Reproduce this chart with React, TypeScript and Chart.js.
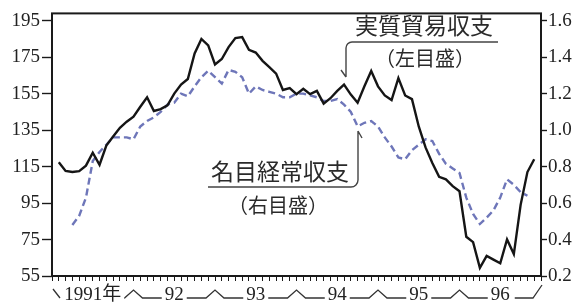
import React, { useEffect, useRef } from "react";
import { Chart, registerables } from "chart.js";

Chart.register(...registerables);

// ---- text ----
const yearLabels = ["1991年", "92", "93", "94", "95", "96"];
const leftTicks = [55, 75, 95, 115, 135, 155, 175, 195];
const rightTicks = [0.2, 0.4, 0.6, 0.8, 1.0, 1.2, 1.4, 1.6];
const realName = "実質貿易収支";
const realAxisNote = "（左目盛）";
const nominalName = "名目経常収支";
const nominalAxisNote = "（右目盛）";

// ---- data (monthly; position = months after Jan 1991) ----
const realTradeStart = 1;
const realTrade = [
  117.4, 112.6, 112, 112.5, 115.5, 122.6, 116, 126.5, 131.5, 136.3, 139.6, 142.4,
  147.8, 153, 145.5, 146.5, 148.6, 155, 160, 163, 177, 185, 181.5, 171,
  174, 180.5, 185.5, 186, 179, 177.5, 173, 169.5, 166, 157, 158, 154.7,
  157.7, 154.7, 156.5, 149.5, 152.5, 156.5, 160, 154.5, 150, 159, 167.4, 159,
  154, 151.5, 163.5, 154, 152, 137, 125.5, 117, 109.4, 108, 104.3, 101.5,
  76.5, 73.6, 59.5, 66, 64, 62, 75, 67, 94, 112, 119,
];
const nominalCAStart = 3;
const nominalCA = [
  0.48, 0.53, 0.63, 0.83, 0.88, 0.92, 0.96, 0.96, 0.96, 0.95,
  1.02, 1.05, 1.07, 1.1, 1.14, 1.15, 1.2, 1.185, 1.24, 1.29,
  1.325, 1.29, 1.255, 1.33, 1.32, 1.29, 1.2, 1.24, 1.22, 1.21,
  1.2, 1.18, 1.18, 1.2, 1.2, 1.19, 1.18, 1.16, 1.16, 1.17,
  1.14, 1.1, 1.02, 1.04, 1.05, 1.02, 0.96, 0.91, 0.85, 0.84,
  0.89, 0.92, 0.95, 0.94, 0.87, 0.815, 0.79, 0.765, 0.63, 0.54,
  0.485, 0.52, 0.56, 0.63, 0.73, 0.7, 0.66, 0.64,
];

const SERIF = '"Liberation Serif", "Noto Sans CJK JP", serif';
const CJK = '"Noto Sans CJK JP", sans-serif';
const INK = "#222222";

const decor = {
  id: "decor",
  afterDraw(chart: any) {
    const { ctx, chartArea: a, scales } = chart;
    const sx = scales.x;
    ctx.save();
    // frame
    ctx.strokeStyle = "#1a1a1a";
    ctx.lineWidth = 2;
    ctx.strokeRect(a.left, a.top, a.right - a.left, a.bottom - a.top);

    // year bracket marks on the x axis
    ctx.font = `19px ${SERIF}`;
    const y0 = a.bottom + 22;
    const h = 8;
    ctx.lineWidth = 1.3;
    ctx.strokeStyle = "#333";
    const centers = yearLabels.map((_, k) => sx.getPixelForValue(6 + 12 * k));
    const halfW = yearLabels.map((l) => ctx.measureText(l).width / 2);
    ctx.beginPath();
    const x0 = sx.getPixelForValue(0);
    ctx.moveTo(x0 + 1, y0 - h - 1);
    ctx.lineTo(x0 + 8, y0);
    for (let k = 0; k < yearLabels.length - 1; k++) {
      const bx = sx.getPixelForValue(12 * (k + 1));
      const l = centers[k] + halfW[k] + 3;
      const r = centers[k + 1] - halfW[k + 1] - 3;
      ctx.moveTo(Math.min(l, bx - 9), y0);
      ctx.lineTo(bx - 9, y0);
      ctx.lineTo(bx, y0 - h);
      ctx.lineTo(bx + 9, y0);
      ctx.lineTo(Math.max(r, bx + 9), y0);
    }
    const last = yearLabels.length - 1;
    const xe = sx.getPixelForValue(72);
    ctx.moveTo(centers[last] + halfW[last] + 5, y0);
    ctx.lineTo(xe - 8, y0);
    ctx.lineTo(xe + 1, y0 - 13);
    ctx.stroke();

    // callouts
    ctx.fillStyle = "#2a2a2a";
    ctx.textAlign = "center";
    ctx.textBaseline = "middle";
    ctx.font = `23px ${CJK}`;
    ctx.fillText(realName, 424, 25);
    ctx.fillText(nominalName, 280, 171);
    ctx.font = `20px ${CJK}`;
    ctx.fillText(realAxisNote, 425, 58);
    ctx.fillText(nominalAxisNote, 278, 205);

    ctx.strokeStyle = "#444";
    ctx.lineWidth = 1.4;
    // callout for real trade balance
    ctx.beginPath();
    ctx.moveTo(498, 42);
    ctx.arcTo(346, 42, 346, 60, 6);
    ctx.lineTo(346, 77);
    ctx.moveTo(341, 70);
    ctx.lineTo(346, 77);
    ctx.stroke();
    // callout for nominal current account
    ctx.beginPath();
    ctx.moveTo(208, 187);
    ctx.arcTo(358, 187, 358, 160, 7);
    ctx.lineTo(358, 131);
    ctx.moveTo(358, 131);
    ctx.lineTo(362, 138);
    ctx.stroke();
    ctx.restore();
  },
};

export default function App() {
  const ref = useRef<HTMLCanvasElement>(null);
  useEffect(() => {
    const canvas = ref.current!;
    const monthTicks = Array.from({ length: 73 }, (_, i) => i);
    const gridCommon = {
      display: true,
      drawOnChartArea: false,
      drawTicks: true,
      tickColor: "#1a1a1a",
      tickWidth: 1.4,
    };
    const chart = new Chart(canvas, {
      type: "line",
      data: {
        datasets: [
          {
            label: realName,
            data: realTrade.map((v, i) => ({ x: realTradeStart + i, y: v })),
            yAxisID: "yL",
            borderColor: "#151515",
            borderWidth: 2.4,
            pointRadius: 0,
            tension: 0,
            fill: false,
          },
          {
            label: nominalName,
            data: nominalCA.map((v, i) => ({ x: nominalCAStart + i, y: v })),
            yAxisID: "yR",
            borderColor: "#6e76b9",
            borderWidth: 2.4,
            borderDash: [7, 4],
            pointRadius: 0,
            tension: 0,
            fill: false,
          },
        ],
      },
      options: {
        responsive: false,
        animation: false,
        devicePixelRatio: 1,
        layout: { padding: { top: 10, left: 0, right: 0, bottom: 0 } },
        plugins: { legend: { display: false }, tooltip: { enabled: false } },
        scales: {
          x: {
            type: "linear",
            min: 0,
            max: 72,
            afterBuildTicks: (s: any) => {
              s.ticks = monthTicks.map((v) => ({ value: v }));
            },
            afterFit: (s: any) => {
              s.height = 31;
            },
            ticks: {
              autoSkip: false,
              maxRotation: 0,
              minRotation: 0,
              padding: 3,
              color: INK,
              font: { family: SERIF, size: 19 },
              callback: (v: any) => {
                const n = Number(v);
                return n % 12 === 6 ? yearLabels[(n - 6) / 12] : "";
              },
            },
            grid: { ...gridCommon, tickLength: 5, tickWidth: 1 },
            border: { display: false },
          },
          yL: {
            type: "linear",
            position: "left",
            min: 55,
            max: 199,
            afterBuildTicks: (s: any) => {
              s.ticks = leftTicks.map((v) => ({ value: v }));
            },
            afterFit: (s: any) => {
              s.width = 52;
            },
            ticks: {
              padding: 2,
              color: INK,
              font: { family: SERIF, size: 19 },
            },
            grid: { ...gridCommon, tickLength: 10 },
            border: { display: false },
          },
          yR: {
            type: "linear",
            position: "right",
            min: 0.2,
            max: 1.64,
            afterBuildTicks: (s: any) => {
              s.ticks = rightTicks.map((v) => ({ value: v }));
            },
            afterFit: (s: any) => {
              s.width = 38;
            },
            ticks: {
              padding: 1,
              color: INK,
              font: { family: SERIF, size: 19 },
              callback: (v: any) => Number(v).toFixed(1),
            },
            grid: { ...gridCommon, tickLength: 6 },
            border: { display: false },
          },
        },
      },
      plugins: [decor],
    });
    return () => chart.destroy();
  }, []);

  return (
    <div style={{ position: "fixed", left: 0, top: 0, width: 579, height: 307, background: "#fff" }}>
      <canvas ref={ref} width={579} height={307} style={{ display: "block" }} />
    </div>
  );
}
